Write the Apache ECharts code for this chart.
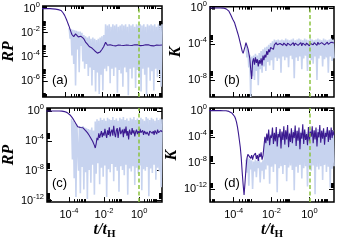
<!DOCTYPE html>
<html><head><meta charset="utf-8">
<script src="https://cdn.jsdelivr.net/npm/echarts@6/dist/echarts.min.js"></script>
<style>html,body{margin:0;padding:0;background:#fff}#c{width:337px;height:241px}</style>
</head><body><div id="c"></div>
<script>
// x grid (log10 of t/tH) for the averaged (dark) curves, -5.3 .. 1.3
const logT = [
 -5.3,-5.25,-5.2,-5.15,-5.1,-5.05,-5.0,-4.95,-4.9,-4.85,
 -4.8,-4.75,-4.7,-4.65,-4.6,-4.55,-4.5,-4.45,-4.4,-4.35,
 -4.3,-4.25,-4.2,-4.15,-4.1,-4.05,-4.0,-3.95,-3.9,-3.85,
 -3.8,-3.75,-3.7,-3.65,-3.6,-3.55,-3.5,-3.45,-3.4,-3.35,
 -3.3,-3.25,-3.2,-3.15,-3.1,-3.05,-3.0,-2.95,-2.9,-2.85,
 -2.8,-2.75,-2.7,-2.65,-2.6,-2.55,-2.5,-2.45,-2.4,-2.35,
 -2.3,-2.25,-2.2,-2.15,-2.1,-2.05,-2.0,-1.95,-1.9,-1.85,
 -1.8,-1.75,-1.7,-1.65,-1.6,-1.55,-1.5,-1.45,-1.4,-1.35,
 -1.3,-1.25,-1.2,-1.15,-1.1,-1.05,-1.0,-0.95,-0.9,-0.85,
 -0.8,-0.75,-0.7,-0.65,-0.6,-0.55,-0.5,-0.45,-0.4,-0.35,
 -0.3,-0.25,-0.2,-0.15,-0.1,-0.05,0.0,0.05,0.1,0.15,
 0.2,0.25,0.3,0.35,0.4,0.45,0.5,0.55,0.6,0.65,
 0.7,0.75,0.8,0.85,0.9,0.95,1.0,1.05,1.1,1.15,
 1.2,1.25,1.3];
// x grid (log10 of t/tH) for the single-run (light) curves, -4.0 .. 1.3
const logTRun = [
 -4.0,-3.95,-3.9,-3.85,-3.8,-3.75,-3.7,-3.65,-3.6,-3.55,
 -3.5,-3.45,-3.4,-3.35,-3.3,-3.25,-3.2,-3.15,-3.1,-3.05,
 -3.0,-2.95,-2.9,-2.85,-2.8,-2.75,-2.7,-2.65,-2.6,-2.55,
 -2.5,-2.45,-2.4,-2.35,-2.3,-2.25,-2.2,-2.15,-2.1,-2.05,
 -2.0,-1.95,-1.9,-1.85,-1.8,-1.75,-1.7,-1.65,-1.6,-1.55,
 -1.5,-1.45,-1.4,-1.35,-1.3,-1.25,-1.2,-1.15,-1.1,-1.05,
 -1.0,-0.95,-0.9,-0.85,-0.8,-0.75,-0.7,-0.65,-0.6,-0.55,
 -0.5,-0.45,-0.4,-0.35,-0.3,-0.25,-0.2,-0.15,-0.1,-0.05,
 0.0,0.05,0.1,0.15,0.2,0.25,0.3,0.35,0.4,0.45,
 0.5,0.55,0.6,0.65,0.7,0.75,0.8,0.85,0.9,0.95,
 1.0,1.05,1.1,1.15,1.2,1.25,1.3];

// log10 values
const rpA_avg = [
 0,0,0,0,0,0,0,0,0,0,
 -0.01,-0.01,-0.02,-0.02,-0.03,-0.04,-0.05,-0.06,-0.08,-0.1,
 -0.1,-0.15,-0.22,-0.32,-0.42,-0.56,-0.72,-0.9,-1.1,-1.3,
 -1.5,-1.72,-1.95,-2.15,-2.3,-2.33,-2.2,-2.1,-2.08,-2.2,
 -2.35,-2.48,-2.45,-2.3,-2.22,-2.35,-2.5,-2.65,-2.78,-2.88,
 -2.95,-3.05,-3.15,-3.22,-3.3,-3.28,-3.35,-3.42,-3.5,-3.55,
 -3.6,-3.7,-3.75,-3.7,-3.6,-3.5,-3.4,-3.3,-3.15,-3.0,
 -2.8,-2.95,-3.05,-3.0,-3.08,-3.0,-3.1,-3.02,-3.06,-2.99,
 -3.05,-3.1,-3.0,-3.07,-3.02,-3.09,-3.0,-3.05,-3.1,-3.0,
 -3.06,-2.98,-3.08,-3.03,-3.1,-3.0,-3.05,-3.08,-3.0,-3.06,
 -3.02,-3.09,-3.0,-3.05,-3.1,-3.01,-3.06,-3.0,-3.08,-3.03,
 -3.0,-3.07,-3.02,-3.1,-3.0,-3.05,-3.09,-3.01,-3.06,-3.0,
 -3.08,-3.02,-3.05,-3.1,-3.0,-3.06,-3.03,-3.09,-3.0,-3.05,
 -3.02,-3.07,-3.03];
const rpA_run = [
 null,null,null,null,-1.6,-2.5,-1.7,-3.9,-1.75,-4.6,
 -1.8,-6.4,-1.85,-3.4,-1.9,-5.3,-1.9,-3.1,-2.0,-4.4,
 -2.2,-5.0,-2.3,-4.6,-2.4,-5.6,-2.3,-4.9,-2.5,-6.4,
 -2.4,-5.1,-2.5,-6.9,-2.6,-5.3,-2.5,-7.1,-2.4,-5.5,
 -2.3,-6.8,-2.2,-5.0,-1.3,-5.2,-1.4,-4.8,-1.3,-6.2,
 -1.5,-5.0,-1.3,-5.6,-1.4,-4.9,-1.3,-7.0,-1.5,-5.1,
 -1.4,-5.4,-1.3,-6.5,-1.4,-4.9,-1.3,-5.3,-1.5,-7.2,
 -1.3,-5.0,-1.4,-5.8,-1.3,-4.9,-1.5,-6.6,-1.3,-5.1,
 -1.4,-5.4,-1.3,-6.9,-1.4,-5.0,-1.3,-5.5,-1.5,-7.2,
 -1.3,-4.9,-1.4,-6.0,-1.3,-5.2,-1.4,-6.8,-1.3,-5.0,
 -1.5,-5.7,-1.3,-5.1,-1.4,-6.5,-1.3];
const kB_avg = [
 0,0,0,0,0,0,0,0,0,0,
 0,0,0,0,0,-0.01,-0.02,-0.04,-0.1,-0.15,
 -0.22,-0.35,-0.55,-0.78,-1.0,-1.25,-1.45,-1.65,-2.0,-2.35,
 -2.7,-3.05,-3.45,-3.9,-4.35,-4.8,-5.05,-4.9,-4.3,-3.85,
 -4.0,-4.5,-5.0,-5.6,-6.8,-7.9,-6.0,-5.6,-6.3,-5.5,
 -6.1,-5.7,-6.5,-5.8,-6.2,-5.6,-6.4,-5.3,-5.8,-5.2,
 -5.5,-4.8,-5.2,-4.6,-4.9,-4.4,-4.5,-4.2,-4.6,-4.1,
 -4.2,-3.85,-4.1,-3.9,-4.25,-3.95,-4.1,-3.8,-4.15,-3.9,
 -4.1,-3.85,-4.2,-3.9,-4.05,-3.8,-4.15,-3.95,-4.1,-3.85,
 -4.2,-3.9,-4.05,-3.8,-4.15,-3.95,-4.1,-3.85,-4.2,-3.9,
 -4.0,-3.8,-4.15,-3.9,-4.05,-3.85,-4.2,-3.95,-4.0,-3.8,
 -4.1,-3.85,-4.0,-3.9,-4.15,-3.8,-4.05,-3.9,-4.1,-3.85,
 -4.0,-3.8,-4.1,-3.9,-3.95,-3.8,-4.05,-3.85,-3.95,-3.8,
 -4.0,-3.85,-3.9];
const kB_run = [
 null,null,null,null,null,null,null,null,null,null,
 null,null,null,-4.0,-5.5,-4.6,-6.6,-5.2,-9.9,-5.4,
 -7.6,-5.3,-8.0,-5.1,-7.0,-5.3,-8.6,-5.0,-6.8,-4.8,
 -7.2,-4.6,-6.5,-4.4,-7.0,-4.3,-6.0,-4.1,-6.4,-3.9,
 -5.8,-3.7,-6.9,-3.5,-5.5,-3.6,-5.9,-3.5,-5.6,-3.6,
 -7.2,-3.5,-5.4,-3.6,-5.8,-3.4,-5.5,-3.5,-6.6,-3.6,
 -5.3,-3.5,-5.7,-3.4,-7.8,-3.6,-5.5,-3.5,-5.9,-3.4,
 -5.4,-3.5,-6.8,-3.6,-5.6,-3.4,-5.3,-3.5,-7.0,-3.6,
 -5.5,-3.4,-5.8,-3.5,-6.2,-3.6,-5.4,-3.5,-8.0,-3.4,
 -5.6,-3.5,-5.3,-3.6,-6.5,-3.4,-5.7,-3.5,-5.5,-3.6,
 -7.2,-3.5,-5.4,-3.4,-5.9,-3.5,-5.6];
const rpC_avg = [
 0,0,0,0,0,0,0,0,0,0,
 0,0,0,0,0,-0.01,-0.01,-0.02,-0.02,-0.03,
 -0.05,-0.08,-0.12,-0.16,-0.22,-0.3,-0.38,-0.5,-0.62,-0.76,
 -0.92,-1.1,-1.3,-1.5,-1.7,-1.9,-2.1,-2.2,-2.25,-2.22,
 -2.15,-2.18,-2.25,-2.38,-2.5,-2.62,-2.75,-2.9,-3.05,-3.25,
 -3.45,-3.65,-3.85,-4.05,-4.25,-4.6,-4.95,-4.4,-3.6,-3.9,
 -3.0,-3.6,-3.4,-2.7,-3.5,-2.9,-3.3,-2.4,-3.1,-3.6,
 -2.6,-3.2,-2.2,-3.4,-2.8,-2.5,-3.3,-2.0,-3.0,-3.5,
 -2.6,-2.3,-3.6,-2.7,-2.2,-3.1,-2.9,-2.5,-3.5,-2.4,
 -3.0,-2.1,-3.3,-2.7,-3.8,-2.5,-2.9,-3.2,-2.3,-3.0,
 -2.6,-3.4,-2.8,-2.5,-3.1,-2.7,-3.3,-2.4,-2.9,-3.0,
 -2.6,-3.2,-2.7,-2.5,-3.1,-2.8,-2.6,-3.3,-2.7,-2.9,
 -2.5,-3.0,-2.7,-3.2,-2.6,-2.8,-3.1,-2.5,-2.9,-2.7,
 -3.0,-2.6,-2.8];
const rpC_run = [
 null,null,null,-1.0,-6.5,-1.3,-9.0,-1.6,-11.5,-1.8,
 -1.9,-8.0,-2.0,-11.0,-2.1,-7.5,-2.0,-10.5,-2.2,-8.2,
 -2.3,-11.8,-2.4,-7.9,-2.5,-9.6,-2.2,-7.2,-2.6,-11.2,
 -1.4,-8.4,-1.1,-7.0,-1.3,-9.8,-0.9,-7.6,-1.2,-8.8,
 -1.0,-7.3,-1.3,-11.5,-0.9,-7.8,-1.1,-8.2,-1.2,-7.1,
 -0.8,-9.4,-1.2,-7.5,-1.0,-8.0,-1.3,-10.8,-0.9,-7.4,
 -1.1,-7.9,-0.8,-8.6,-1.2,-7.2,-1.0,-11.2,-1.3,-7.7,
 -0.9,-8.1,-1.1,-7.4,-0.8,-9.9,-1.2,-7.6,-1.0,-8.4,
 -1.2,-7.3,-0.9,-10.6,-1.1,-7.8,-1.3,-8.0,-0.8,-7.5,
 -1.0,-11.4,-1.2,-7.7,-0.9,-8.3,-1.1,-7.2,-1.3,-9.2,
 -0.9,-7.6,-1.2,-8.1,-1.0,-10.2,-1.1];
const kD_avg = [
 0,0,0,0,0,0,0,0,0,0,
 0,0,0,0,0,-0.01,-0.01,-0.02,-0.03,-0.04,
 -0.08,-0.12,-0.18,-0.26,-0.35,-0.48,-0.65,-0.9,-1.25,-1.75,
 -2.5,-3.4,-4.5,-5.6,-7.2,-9.4,-11.3,-12.9,-11.0,-8.9,
 -7.3,-6.7,-7.0,-6.6,-7.3,-6.8,-7.5,-6.9,-7.2,-6.5,
 -7.4,-6.8,-7.7,-6.6,-7.1,-6.4,-7.5,-6.9,-7.0,-4.0,
 -5.0,-3.5,-4.6,-2.9,-5.3,-3.8,-4.2,-2.6,-5.1,-3.4,
 -4.7,-2.5,-5.5,-3.6,-4.1,-2.8,-5.8,-3.2,-4.5,-2.4,
 -5.2,-3.0,-4.4,-2.2,-5.6,-3.5,-4.8,-2.7,-5.0,-3.3,
 -4.2,-2.3,-5.4,-3.1,-4.6,-2.6,-5.9,-3.4,-4.3,-2.1,
 -5.1,-2.9,-4.5,-3.6,-5.3,-2.5,-4.7,-3.2,-4.0,-2.4,
 -5.0,-3.0,-4.4,-2.6,-5.5,-3.3,-4.1,-2.2,-4.9,-3.1,
 -4.3,-2.7,-5.2,-3.4,-4.0,-2.5,-4.8,-3.0,-4.5,-2.6,
 -4.2,-3.1,-3.8];
const kD_run = [
 null,null,null,null,null,null,null,null,null,null,
 null,null,null,-7.5,-9.5,-7.2,-11.5,-7.4,-9.0,-7.6,
 -12.0,-7.8,-9.3,-7.5,-10.2,-7.7,-8.8,-7.4,-11.0,-7.9,
 -9.2,-7.6,-10.5,-4.5,-9.0,-3.8,-8.4,-4.4,-11.2,-3.6,
 -8.6,-4.2,-9.4,-3.5,-8.2,-4.0,-12.5,-3.3,-8.8,-3.9,
 -8.5,-3.4,-9.7,-3.7,-8.3,-3.2,-10.8,-3.8,-8.7,-3.3,
 -8.4,-3.6,-9.1,-3.0,-12.2,-3.5,-8.6,-3.1,-9.5,-3.4,
 -8.3,-3.2,-10.4,-3.6,-8.8,-2.9,-8.5,-3.3,-11.6,-3.5,
 -8.7,-3.0,-9.2,-3.4,-8.4,-3.1,-12.8,-3.5,-8.6,-2.8,
 -9.0,-3.3,-8.5,-3.0,-10.6,-3.4,-8.3,-3.1,-9.4,-2.9,
 -8.6,-3.2,-11.8,-3.3,-8.9,-3.0,-8.5];

// tick exponents
const xMajorExp = [-6,-4,-2,0,2];
const xLabelExp = [-4,-2,0];
const yMajorA = [0,-2,-4,-6,-8];
const yMajorB = [0,-4,-8,-12];
const yMajorC = [0,-4,-8,-12];
const yMajorD = [0,-4,-8,-12,-16];
const markerLogT = [0];   // t = tH
const panelTags = ['(a)','(b)','(c)','(d)'];
const yNames = ['RP','K','RP','K'];

const X_MIN = -5.25, X_MAX = 1.3;
const panels = [
  {grid:{left:38,top:6,width:124,height:91}, yMin:-7.35, yMax:0.22, majors:yMajorA, avg:rpA_avg, run:rpA_run, xLab:false, tag:[52,74]},
  {grid:{left:210,top:6,width:124,height:91}, yMin:-9.9, yMax:0.15, majors:yMajorB, avg:kB_avg, run:kB_run, xLab:false, tag:[224,74]},
  {grid:{left:38,top:108,width:124,height:95}, yMin:-12.2, yMax:0.4, majors:yMajorC, avg:rpC_avg, run:rpC_run, xLab:true, tag:[52,177]},
  {grid:{left:210,top:108,width:124,height:95}, yMin:-14, yMax:0.4, majors:yMajorD, avg:kD_avg, run:kD_run, xLab:true, tag:[224,177]}
];

function minorsOf(majors){
  const out=[];
  majors.forEach(m=>{ for(let k=2;k<=9;k++) out.push(m+Math.log10(k)); });
  return out;
}
const inRange=(arr,a,b)=>arr.filter(v=>v>=a-1e-9&&v<=b+1e-9);
const expLabel = v => { const e=Math.round(v); return '{b|10}{s|'+(e<0?'-'+(-e):String(e))+'}'; };
const labelRich = {
  b:{fontSize:11,fontFamily:'Liberation Sans',color:'#000'},
  s:{fontSize:7.5,fontFamily:'Liberation Sans',color:'#000',padding:[0,0,8,0]}
};
const tickStyle={color:'#000',width:1};
const noLine={show:false,onZero:false};

const grids=[], xAxes=[], yAxes=[], series=[], graphics=[];
panels.forEach((p,i)=>{
  grids.push(Object.assign({show:true,borderColor:'#000',borderWidth:1.5,backgroundColor:'transparent'},p.grid));
  const xMaj=inRange(xMajorExp,X_MIN,X_MAX), xMin=inRange(minorsOf(xMajorExp),X_MIN,X_MAX);
  const yMaj=inRange(p.majors,p.yMin,p.yMax), yMin=inRange(minorsOf(p.majors),p.yMin,p.yMax);
  const mainX=xAxes.length;
  const baseX={gridIndex:i,type:'value',min:X_MIN,max:X_MAX,axisLine:noLine,splitLine:{show:false}};
  xAxes.push(Object.assign({},baseX,{position:'bottom',
    axisTick:{show:true,inside:true,length:5,customValues:xMaj,lineStyle:tickStyle},
    axisLabel:{show:p.xLab,customValues:xLabelExp,formatter:expLabel,rich:labelRich,margin:5},
    name:p.xLab?'{t|t/t}{h|H}':'',nameLocation:'middle',nameGap:14,
    nameTextStyle:{rich:{t:{fontSize:16,fontFamily:'Liberation Serif',fontStyle:'italic',fontWeight:'bold',color:'#000'},
      h:{fontSize:11,fontFamily:'Liberation Serif',fontWeight:'bold',color:'#000',padding:[10,0,0,0]}}}}));
  xAxes.push(Object.assign({},baseX,{position:'bottom',axisTick:{show:true,inside:true,length:3,customValues:xMin,lineStyle:tickStyle},axisLabel:{show:false}}));
  xAxes.push(Object.assign({},baseX,{position:'top',axisTick:{show:true,inside:true,length:5,customValues:xMaj,lineStyle:tickStyle},axisLabel:{show:false}}));
  xAxes.push(Object.assign({},baseX,{position:'top',axisTick:{show:true,inside:true,length:3,customValues:xMin,lineStyle:tickStyle},axisLabel:{show:false}}));
  const mainY=yAxes.length;
  const baseY={gridIndex:i,type:'value',min:p.yMin,max:p.yMax,axisLine:noLine,splitLine:{show:false}};
  yAxes.push(Object.assign({},baseY,{position:'left',
    axisTick:{show:true,inside:true,length:5,customValues:yMaj,lineStyle:tickStyle},
    axisLabel:{show:true,customValues:yMaj,formatter:expLabel,rich:labelRich,margin:3},
    name:yNames[i],nameLocation:'middle',nameGap:22,
    nameTextStyle:{fontSize:16,fontFamily:'Liberation Serif',fontStyle:'italic',fontWeight:'bold',color:'#000'}}));
  yAxes.push(Object.assign({},baseY,{position:'left',axisTick:{show:true,inside:true,length:3,customValues:yMin,lineStyle:tickStyle},axisLabel:{show:false}}));
  yAxes.push(Object.assign({},baseY,{position:'right',axisTick:{show:true,inside:true,length:5,customValues:yMaj,lineStyle:tickStyle},axisLabel:{show:false}}));
  yAxes.push(Object.assign({},baseY,{position:'right',axisTick:{show:true,inside:true,length:3,customValues:yMin,lineStyle:tickStyle},axisLabel:{show:false}}));

  const runData=[]; logTRun.forEach((x,j)=>{ if(p.run[j]!=null) runData.push([x,p.run[j]]); });
  series.push({type:'line',xAxisIndex:mainX,yAxisIndex:mainY,data:runData,showSymbol:false,symbol:'none',z:2,
    lineStyle:{color:'#c7d3ef',width:1.6},
    markLine:{silent:true,symbol:'none',label:{show:false},animation:false,
      lineStyle:{color:'#8cc440',type:[4,2.5],width:1.5},data:markerLogT.map(v=>({xAxis:v}))}});
  series.push({type:'line',xAxisIndex:mainX,yAxisIndex:mainY,data:logT.map((x,j)=>[x,p.avg[j]]),showSymbol:false,symbol:'none',z:3,
    lineStyle:{color:'#3b1a90',width:1.1}});
  graphics.push({type:'text',left:p.tag[0],top:p.tag[1],z:10,style:{text:panelTags[i],fontSize:13,fontFamily:'Liberation Sans',fill:'#000'}});
});

const chart=echarts.init(document.getElementById('c'),null,{renderer:'canvas'});
chart.setOption({animation:false,backgroundColor:'#fff',grid:grids,xAxis:xAxes,yAxis:yAxes,series:series,graphic:graphics});
</script></body></html>
